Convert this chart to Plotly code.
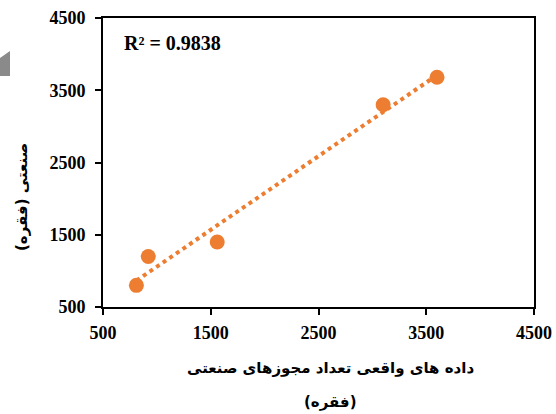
import numpy as np
import plotly.graph_objects as go

# Data
actual_x = [810, 920, 1560, 3100, 3600]
predicted_y = [800, 1200, 1400, 3300, 3680]
tick_vals = [500, 1500, 2500, 3500, 4500]
r2_label = "R² = 0.9838"
x_title_line1 = "داده های واقعی تعداد مجوزهای صنعتی"
x_title_line2 = "(فقره)"
y_title = "صنعتی (فقره)"

W, H = 556, 414
L, R, T, B = 103, 22, 18, 107
pw, ph = W - L - R, H - T - B

def px_to_paper(px, py):
    return (px - L) / pw, (H - B - py) / ph

# linear trendline
coef = np.polyfit(actual_x, predicted_y, 1)
tx = np.array([min(actual_x), max(actual_x)])
ty = np.polyval(coef, tx)

orange = "#ED7D31"
fig = go.Figure()
fig.add_trace(go.Scatter(x=tx, y=ty, mode="lines",
                         line=dict(color=orange, width=4, dash="4px,4px"),
                         hoverinfo="skip", showlegend=False))
fig.add_trace(go.Scatter(x=actual_x, y=predicted_y, mode="markers",
                         marker=dict(color=orange, size=15, line=dict(width=0)),
                         showlegend=False))

tickfont = dict(family="Liberation Serif, Times New Roman, serif", size=18,
                color="black", weight="bold")
axis_common = dict(range=[500, 4500], tickvals=tick_vals, ticks="outside",
                   ticklen=6, tickwidth=2, tickcolor="black",
                   showline=True, linecolor="black", linewidth=2, mirror=True,
                   showgrid=False, zeroline=False, tickfont=tickfont,
                   automargin=False)
fig.update_xaxes(ticklabelstandoff=2, **axis_common)
fig.update_yaxes(ticklabelstandoff=6, **axis_common)

ax, ay = px_to_paper(122, 43)
fig.add_annotation(x=ax, y=ay, xref="paper", yref="paper", text=r2_label,
                   showarrow=False, xanchor="left", yanchor="middle",
                   font=dict(family="Liberation Serif, serif", size=20, color="black",
                             weight="bold"))

arfont = dict(family="DejaVu Sans", size=15, color="black", weight="bold")
x1, y1 = px_to_paper(330, 368)
fig.add_annotation(x=x1, y=y1, xref="paper", yref="paper", text=x_title_line1,
                   showarrow=False, xanchor="center", yanchor="middle", font=arfont)
x2, y2 = px_to_paper(330, 402)
fig.add_annotation(x=x2, y=y2, xref="paper", yref="paper", text=x_title_line2,
                   showarrow=False, xanchor="center", yanchor="middle", font=arfont)
yx, yy = px_to_paper(22, 197)
fig.add_annotation(x=yx, y=yy, xref="paper", yref="paper", text=y_title,
                   showarrow=False, xanchor="center", yanchor="middle", textangle=-90,
                   font=arfont)

# gray tab at left edge (part of the source image)
pts = [(0, 58), (10, 51), (10, 76), (0, 76)]
path = "M " + " L ".join(f"{px_to_paper(a, b)[0]},{px_to_paper(a, b)[1]}" for a, b in pts) + " Z"
fig.add_shape(type="path", path=path, xref="paper", yref="paper",
              fillcolor="#8a8a8a", line=dict(width=0), layer="above")

fig.update_layout(width=W, height=H, margin=dict(l=L, r=R, t=T, b=B, autoexpand=False),
                  plot_bgcolor="white", paper_bgcolor="white")
fig.write_html("out.html")
